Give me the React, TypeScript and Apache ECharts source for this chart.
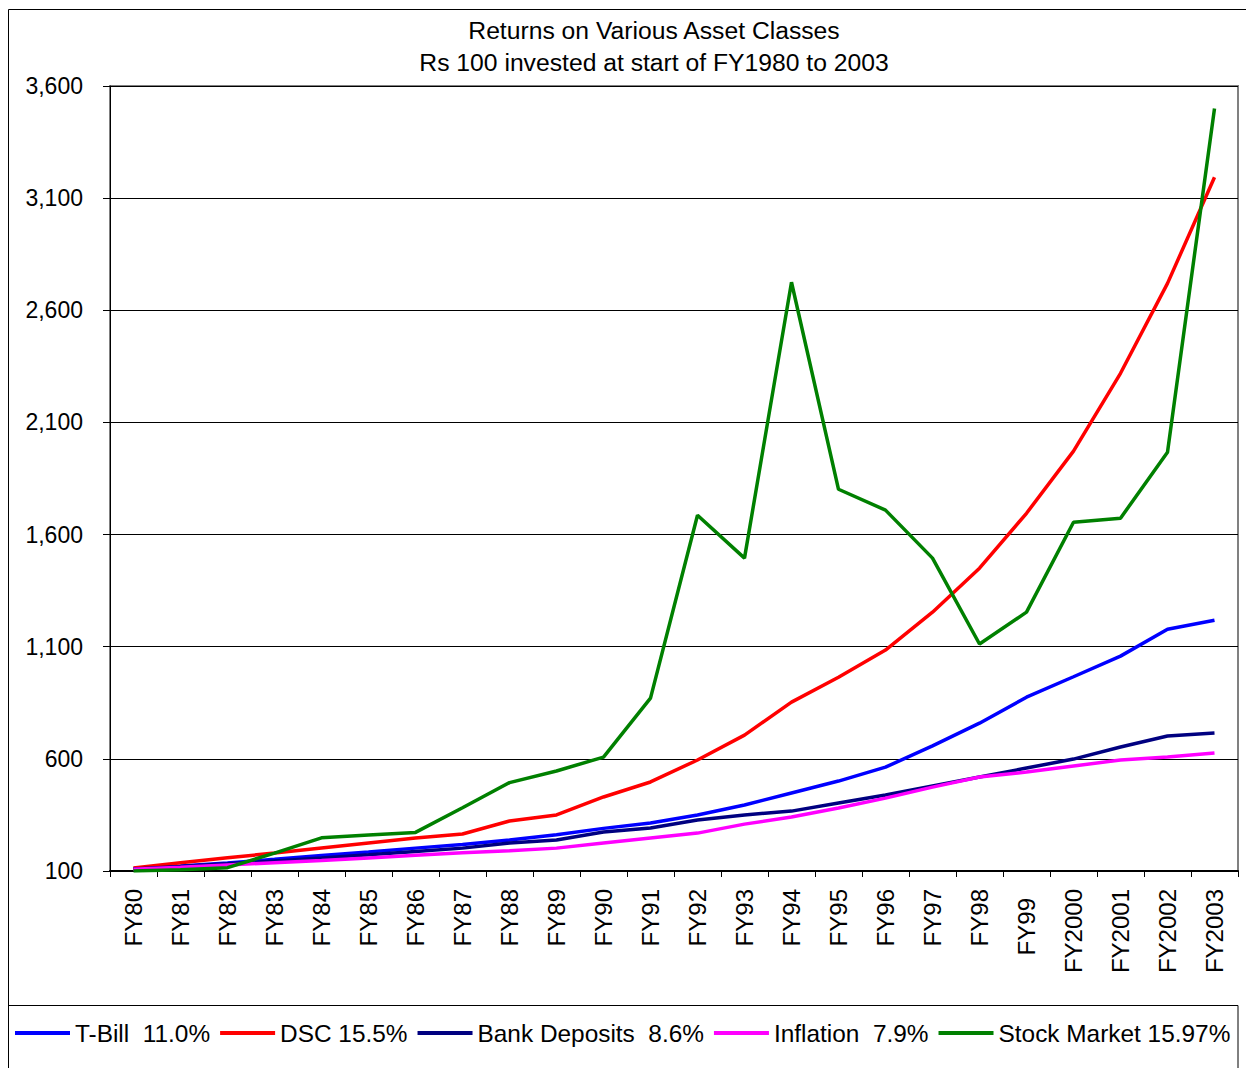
import React, { useEffect, useRef } from 'react';
import * as echarts from 'echarts';

const categories = [
  'FY80', 'FY81', 'FY82', 'FY83', 'FY84', 'FY85', 'FY86', 'FY87', 'FY88', 'FY89',
  'FY90', 'FY91', 'FY92', 'FY93', 'FY94', 'FY95', 'FY96', 'FY97', 'FY98', 'FY99',
  'FY2000', 'FY2001', 'FY2002', 'FY2003',
];

const yTicks = { min: 100, max: 3600, interval: 500 };

const tBill = [111, 122, 136, 152, 169, 185, 202, 218, 238, 262, 290, 314, 350, 394, 448, 501, 563, 658, 759, 875, 966, 1058, 1178, 1218];
const dsc = [113, 137, 159, 180, 203, 225, 247, 265, 323, 350, 430, 497, 595, 706, 853, 964, 1085, 1254, 1450, 1695, 1972, 2319, 2720, 3193];
const bankDeposits = [109, 120, 132, 145, 158, 172, 187, 202, 225, 238, 274, 292, 327, 350, 367, 403, 439, 479, 519, 559, 599, 653, 702, 715];
const inflation = [108, 117, 127, 137, 147, 158, 170, 181, 190, 202, 225, 247, 269, 309, 341, 381, 425, 474, 519, 541, 568, 595, 608, 626];
const stockMarket = [100, 106, 115, 180, 248, 260, 272, 382, 494, 546, 608, 871, 1686, 1495, 2725, 1802, 1709, 1495, 1112, 1254, 1655, 1673, 1967, 3500];

const seriesNames = ['T-Bill  11.0%', 'DSC 15.5%', 'Bank Deposits  8.6%', 'Inflation  7.9%', 'Stock Market 15.97%'];
const seriesColors = ['#0000FF', '#FF0000', '#000080', '#FF00FF', '#008000'];
const seriesData = [tBill, dsc, bankDeposits, inflation, stockMarket];

const FONT = "'Liberation Sans', Arial, sans-serif";

export default function App() {
  const ref = useRef<HTMLDivElement>(null);
  useEffect(() => {
    document.body.style.margin = '0';
    document.body.style.overflow = 'hidden';
    const chart = echarts.init(ref.current!, null, { renderer: 'svg' });
    chart.setOption({
      animation: false,
      backgroundColor: '#ffffff',
      textStyle: { fontFamily: FONT },
      title: {
        text: 'Returns on Various Asset Classes\nRs 100 invested at start of FY1980 to 2003',
        left: 649,
        top: 9,
        textAlign: 'center',
        textStyle: { fontFamily: FONT, fontSize: 24.7, fontWeight: 'normal', color: '#000', lineHeight: 32 },
      },
      graphic: [
        { type: 'rect', shape: { x: 8.5, y: 9.5, width: 1260, height: 1080 }, style: { fill: 'none', stroke: '#000', lineWidth: 1 }, z: -1 },
        { type: 'rect', shape: { x: 8.5, y: 1005.5, width: 1229.5, height: 80 }, style: { fill: 'none', stroke: '#000', lineWidth: 1 }, z: -1 },
      ],
      legend: {
        left: 15,
        top: 1021,
        padding: 0,
        itemWidth: 55,
        itemHeight: 4,
        itemGap: 10,
        icon: 'rect',
        textStyle: { fontFamily: FONT, fontSize: 24.4, color: '#000' },
        data: seriesNames,
      },
      grid: {
        left: 110,
        right: 8,
        top: 86,
        bottom: 197,
        show: true,
        borderColor: '#808080',
        borderWidth: 2,
        backgroundColor: 'transparent',
      },
      xAxis: {
        type: 'category',
        boundaryGap: true,
        data: categories.map((c) => (c === 'FY99' ? { value: c, textStyle: { padding: [0, 9, 0, 0] } } : c)),
        axisLine: { lineStyle: { color: '#000', width: 2 } },
        axisTick: { show: true, interval: 0, length: 6, lineStyle: { color: '#000' } },
        axisLabel: { interval: 0, rotate: 90, margin: 18, fontSize: 24, color: '#000', fontFamily: FONT },
        splitLine: { show: false },
      },
      yAxis: {
        type: 'value',
        min: yTicks.min,
        max: yTicks.max,
        interval: yTicks.interval,
        axisLine: { show: true, lineStyle: { color: '#000', width: 1 } },
        axisTick: { show: true, length: 7, lineStyle: { color: '#000' } },
        axisLabel: {
          margin: 27,
          fontSize: 23,
          color: '#000',
          fontFamily: FONT,
          formatter: (v: number) => v.toLocaleString('en-US'),
        },
        splitLine: { show: true, lineStyle: { color: '#000', width: 1 } },
      },
      series: seriesNames.map((name, i) => ({
        name,
        type: 'line',
        data: seriesData[i],
        symbol: 'none',
        color: seriesColors[i],
        lineStyle: { color: seriesColors[i], width: 3.5 },
      })),
    });
    return () => chart.dispose();
  }, []);
  return <div ref={ref} style={{ width: 1246, height: 1068 }} />;
}
